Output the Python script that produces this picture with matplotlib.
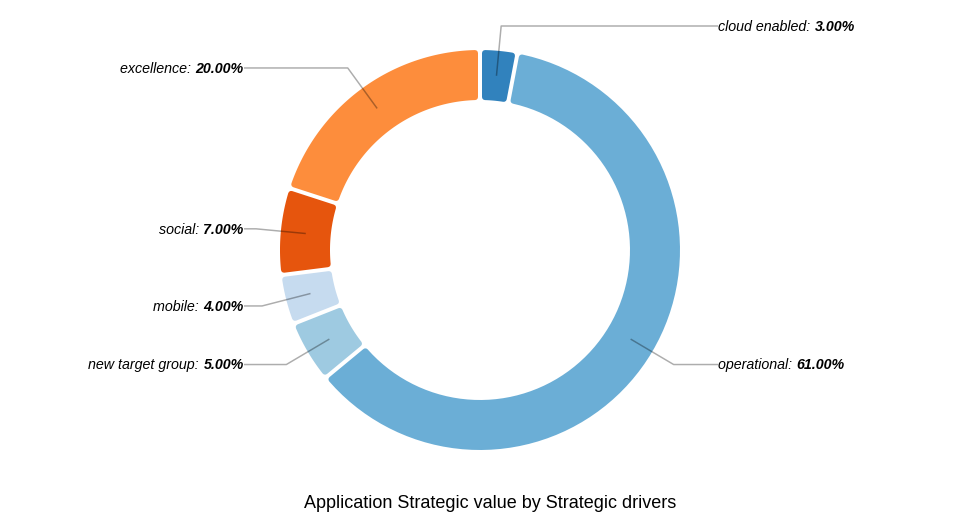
import numpy as np
import matplotlib.pyplot as plt
from matplotlib import ft2font
from matplotlib.font_manager import FontProperties, findfont, get_font
from matplotlib.patches import Polygon

plt.rcParams["font.family"] = ["Liberation Sans", "DejaVu Sans"]

labels = ["cloud enabled", "operational", "new target group", "mobile", "social", "excellence"]
values = [3.0, 61.0, 5.0, 4.0, 7.0, 20.0]
colors = ["#3182bd", "#6baed6", "#9ecae1", "#c6dbef", "#e6550d", "#fd8d3c"]
title = "Application Strategic value by Strategic drivers"

W, H = 980, 520
CX, CY = 480, 250
R_OUT, R_IN = 200, 150
R_LABEL = 225
LABEL_DX = 238
PAD = 4.0      # gap between slices, px
CORNER = 3.0   # corner radius, px
PX2PT = 72 / 100
FS = 10.3

prop_it = FontProperties(family="Liberation Sans", style="italic", size=FS)
prop_bi = FontProperties(family="Liberation Sans", style="italic", weight="bold", size=FS)
NO_SCALE = ft2font.LoadFlags.NO_SCALE if hasattr(ft2font, "LoadFlags") else ft2font.LOAD_NO_SCALE


def advance(s, prop):
    # pen advance of a string in pixels (font units -> px), like svg text
    font = get_font(findfont(prop))
    units = sum(font.load_char(ord(c), flags=NO_SCALE).horiAdvance for c in s)
    return units / font.units_per_EM * FS * 100 / 72


def pt(r, a):
    # angle a measured clockwise from 12 o'clock, y grows downward
    return CX + r * np.sin(a), CY - r * np.cos(a)


def ring_slice(a0, a1):
    ro, ri = R_OUT - CORNER, R_IN + CORNER
    off = PAD / 2 + CORNER
    do, di = np.arcsin(off / ro), np.arcsin(off / ri)
    ta = np.linspace(a0 + do, a1 - do, 80)
    tb = np.linspace(a1 - di, a0 + di, 80)
    xo, yo = pt(ro, ta)
    xi, yi = pt(ri, tb)
    return np.column_stack([np.r_[xo, xi], np.r_[yo, yi]])


fig = plt.figure(figsize=(W / 100, H / 100), dpi=100)
ax = fig.add_axes([0, 0, 1, 1])
ax.set_xlim(0, W)
ax.set_ylim(H, 0)
ax.set_aspect("equal")
ax.axis("off")

total = sum(values)
start = 0.0
for name, val, col in zip(labels, values, colors):
    a0 = start / total * 2 * np.pi
    a1 = (start + val) / total * 2 * np.pi
    start += val
    ax.add_patch(Polygon(ring_slice(a0, a1), closed=True, facecolor=col,
                         edgecolor=col, linewidth=2 * CORNER * PX2PT,
                         joinstyle="round", zorder=2))

    mid = (a0 + a1) / 2
    x0, y0 = pt((R_OUT + R_IN) / 2, mid)
    x1, y1 = pt(R_LABEL, mid)
    right = np.sin(mid) > 0
    xl = CX + LABEL_DX if right else CX - LABEL_DX + 2
    ax.plot([x0, x1, xl], [y0, y1, y1], color="black", alpha=0.32,
            lw=1.5 * PX2PT, zorder=3, solid_capstyle="butt")

    head = f"{name}: "
    pct = f"{val:.2f}%"
    w_head, w_pct = advance(head, prop_it), advance(pct, prop_bi)
    xs = xl if right else xl - w_head - w_pct
    ty = y1 + 0.8
    ax.text(xs, ty, head, ha="left", va="center", fontproperties=prop_it, zorder=4)
    ax.text(xs + w_head, ty, pct, ha="left", va="center", fontproperties=prop_bi, zorder=4)

ax.text(490, 504, title, ha="center", va="center", fontsize=13)

fig.savefig("out.png", dpi=100)
